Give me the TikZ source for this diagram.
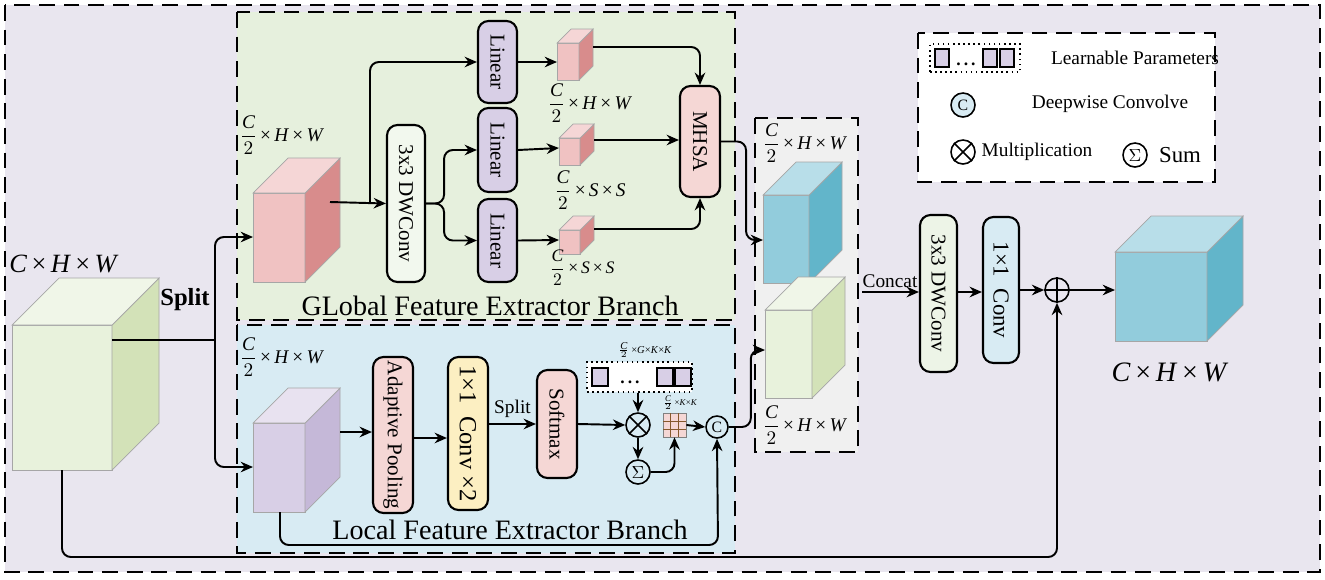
\documentclass[tikz,border=0pt]{standalone}
\usepackage{fontspec}
\setmainfont{Liberation Serif}
\usetikzlibrary{arrows.meta}
\newcommand{\mycube}[8]{%
 \fill[#6,draw=gray!70,line width=0.4pt] (#1,#2) rectangle (#3,#4);
 \fill[#7,draw=gray!70,line width=0.4pt] (#3,#2) -- (#3+#5,#2-#5) -- (#3+#5,#4-#5) -- (#3,#4) -- cycle;
 \fill[#8,draw=gray!70,line width=0.4pt] (#1,#2) -- (#1+#5,#2-#5) -- (#3+#5,#2-#5) -- (#3,#2) -- cycle;}
\newcommand{\hf}{$\displaystyle\frac{\textit{C}}{2}$}
\newcommand{\hfs}{$\frac{\textit{C}}{2}$}
\newcommand{\tm}{\,×\,}
\tikzset{
 bx/.style={draw,line width=1.2pt,rounded corners=6pt,minimum width=#1},
 ar/.style={line width=1.1pt,-{Stealth[length=7pt,width=6pt]},rounded corners=5pt},
 ln/.style={line width=1.1pt,rounded corners=5pt},
 dbox/.style={draw,line width=1.3pt,dash pattern=on 9pt off 5pt},
 op/.style={circle,draw,line width=0.9pt,minimum size=24*0.02cm,inner sep=0pt},
 lbl/.style={font=\fontsize{12}{14}\selectfont,rotate=-90},
 dim/.style={font=\fontsize{11}{12}\selectfont,inner sep=1pt},
 big/.style={font=\fontsize{16}{18}\selectfont},
}
\definecolor{bgout}{HTML}{E9E6EF}
\definecolor{bgg}{HTML}{E6F0DD}
\definecolor{bgl}{HTML}{D8EBF3}
\definecolor{pinkf}{HTML}{F0C2C2}
\definecolor{pinks}{HTML}{D88C8C}
\definecolor{pinkt}{HTML}{F5D6D6}
\definecolor{purp}{HTML}{D8CFE6}
\definecolor{purs}{HTML}{C5B8D8}
\definecolor{greenf}{HTML}{E8F2DC}
\definecolor{greens}{HTML}{D3E2B8}
\definecolor{greent}{HTML}{F0F6E8}
\definecolor{bluef}{HTML}{92CCDC}
\definecolor{blues}{HTML}{62B5CA}
\definecolor{bluet}{HTML}{B8DEE9}
\definecolor{yel}{HTML}{FCEFC2}
\definecolor{boxpink}{HTML}{F5D7D5}
\begin{document}
\begin{tikzpicture}[x=0.02cm,y=-0.02cm]
\useasboundingbox (0,0) rectangle (1325,579);
\fill[white] (0,0) rectangle (1325,579);
\draw[dbox,fill=bgout] (5,5) rectangle (1320,572);
\draw[dbox,fill=bgg] (237,12) rectangle (735,320);
\draw[dbox,fill=bgl] (237,325) rectangle (735,553);
\draw[dbox,fill=gray!12] (755,118) rectangle (858,452);
\draw[dbox,fill=white] (918,33) rectangle (1215,182);
% cubes
\mycube{12}{325}{112}{470}{47}{greenf}{greens}{greent}
\mycube{253}{193}{305}{282}{35}{pinkf}{pinks}{pinkt}
\mycube{557}{43}{579}{80}{14}{pinkf}{pinks}{pinkt}
\mycube{559}{138}{580}{165}{14}{pinkf}{pinks}{pinkt}
\mycube{559}{230}{580}{254}{14}{pinkf}{pinks}{pinkt}
\mycube{253}{423}{305}{512}{35}{purp}{purs}{purp!60}
\mycube{763}{195}{809}{283}{33}{bluef}{blues}{bluet}
\mycube{765}{310}{812}{398}{33}{greenf}{greens}{greent}
\mycube{1115}{252}{1207}{341}{36}{bluef}{blues}{bluet}
\coordinate (inR) at (112,340);
\coordinate (inB) at (62,470);
\coordinate (gcL) at (253,237);
\coordinate (gcR) at (330,202);
\coordinate (lcL) at (253,467);
\coordinate (lcR) at (340,432);
\coordinate (lcB) at (280,512);
\coordinate (c1R) at (593,47); \coordinate (c1L) at (557,62);
\coordinate (c2R) at (594,140); \coordinate (c2L) at (559,148);
\coordinate (c3R) at (594,229); \coordinate (c3L) at (559,240);
\coordinate (bcL) at (763,240);
\coordinate (gcL2) at (765,350);
\coordinate (fcL) at (1115,290);
% labels
\node[font=\fontsize{15}{17}\selectfont] (lin) at (64,264) {\textit{C}\tm\textit{H}\tm\textit{W}};
\node[font=\bfseries\fontsize{14}{16}\selectfont] (split) at (185,300) {Split};
\node[dim] (d1) at (282,135) {\hf\tm\textit{H}\tm\textit{W}};
\node[dim] (d2) at (590,103) {\hf\tm\textit{H}\tm\textit{W}};
\node[dim] (d3) at (590,190) {\hf\tm\textit{S}\tm\textit{S}};
\node[dim,font=\fontsize{10}{11}\selectfont] (d4) at (582,268) {\hf\tm\textit{S}\tm\textit{S}};
\node[dim] (d5) at (282,357) {\hf\tm\textit{H}\tm\textit{W}};
\node[dim] (d6) at (805,143) {\hf\tm\textit{H}\tm\textit{W}};
\node[dim] (d7) at (805,425) {\hf\tm\textit{H}\tm\textit{W}};
\node[font=\fontsize{16}{18}\selectfont] (lout) at (1170,372) {\textit{C}\tm\textit{H}\tm\textit{W}};
\node[big] (tg) at (490,306) {GLobal Feature Extractor Branch};
\node[big] (tl) at (510,530) {Local Feature Extractor Branch};
% global boxes
\node[bx=39*0.02cm,minimum height=82*0.02cm,fill=purp] (l1) at (497.5,62) {};
\node[bx=39*0.02cm,minimum height=84*0.02cm,fill=purp] (l2) at (497.5,150) {};
\node[bx=39*0.02cm,minimum height=83*0.02cm,fill=purp] (l3) at (497.5,240.5) {};
\foreach \n in {l1,l2,l3} \node[lbl] at (\n) {Linear};
\node[bx=38*0.02cm,minimum height=157*0.02cm,fill=bgg!50] (dw) at (406,203.5) {};
\node[lbl] at (dw) {3x3 DWConv};
\node[bx=40*0.02cm,minimum height=111*0.02cm,fill=boxpink] (mh) at (700,141.5) {};
\node[lbl] at (mh) {MHSA};
% local boxes
\node[bx=40*0.02cm,minimum height=156*0.02cm,fill=boxpink] (ap) at (393,435) {};
\node[lbl] at (ap) {Adaptive Pooling};
\node[bx=40*0.02cm,minimum height=153*0.02cm,fill=yel] (cv) at (468,433.5) {};
\node[lbl,font=\fontsize{14}{16}\selectfont] at (cv) {1×1 \ Conv ×2};
\node[bx=40*0.02cm,minimum height=108*0.02cm,fill=boxpink] (sm) at (557,424) {};
\node[lbl] at (sm) {Softmax};
\node[draw,dotted,line width=0.9pt,fill=white,minimum width=105*0.02cm,minimum height=30*0.02cm,inner sep=0pt] (pr) at (639.5,377) {};
\foreach \x in {600,665,683} \draw[fill=purp,line width=0.6pt] (\x-8,368) rectangle (\x+8,386);
\node[font=\bfseries] at (630,382) {.\,.\,.};
\node[font=\fontsize{6}{7}\selectfont] (d8) at (645,350) {\hfs\,×\textit{G}×\textit{K}×\textit{K}};
\node[op] (mul) at (638,425) {};
\draw[line width=0.9pt] (mul.north east) -- (mul.south west) (mul.north west) -- (mul.south east);
\node[op] (sum) at (638,472) {$\Sigma$};
\node[draw=gray,fill=boxpink,minimum width=23*0.02cm,minimum height=24*0.02cm,inner sep=0pt] (gr) at (674.5,425) {};
\foreach \i in {1,2} {\draw[brown!70!black,line width=0.4pt] (663+7.7*\i,413) -- (663+7.7*\i,437);
  \draw[brown!70!black,line width=0.4pt] (663,413+8*\i) -- (686,413+8*\i);}
\node[font=\fontsize{5}{6}\selectfont] (d9) at (680,403) {\hfs\,×\textit{K}×\textit{K}};
\node[op,minimum size=22*0.02cm,font=\small] (cc) at (717,427) {C};
% right boxes
\node[bx=37*0.02cm,minimum height=157*0.02cm,fill=bgg!70!white] (dw2) at (938.5,293.5) {};
\node[lbl] at (dw2) {3x3 DWConv};
\node[bx=36*0.02cm,minimum height=146*0.02cm,fill=bgl] (c11) at (1001,290) {};
\node[lbl,font=\fontsize{13}{15}\selectfont] at (c11) {1×1 \ Conv};
\node[op] (pl) at (1057,290) {};
\draw[line width=0.9pt] (pl.north) -- (pl.south) (pl.west) -- (pl.east);
\node[font=\fontsize{11}{13}\selectfont] (cct) at (890,281) {Concat};
\coordinate (mid) at (862,292);
% legend
\node[draw,dotted,line width=0.9pt,minimum width=90*0.02cm,minimum height=28*0.02cm] (lp) at (975,58) {};
\foreach \x in {942,990,1007} \draw[fill=purp,line width=0.6pt] (\x-7,49) rectangle (\x+7,67);
\node[font=\bfseries] at (966,64) {.\,.\,.};
\node[font=\fontsize{11}{13}\selectfont] (tlp) at (1135,58) {Learnable Parameters};
\node[op,fill=bgl,font=\small] (lc) at (963,105) {C};
\node[font=\fontsize{11}{13}\selectfont] (tlc) at (1110,104) {Deepwise Convolve};
\node[op] (lm) at (963,152) {};
\draw[line width=0.9pt] (lm.north east) -- (lm.south west) (lm.north west) -- (lm.south east);
\node[font=\fontsize{11}{13}\selectfont] (tlm) at (1037,152) {Multiplication};
\node[op] (ls) at (1135,155) {$\Sigma$};
\node[font=\fontsize{13}{15}\selectfont] (tls) at (1180,155) {Sum};
% connectors
\draw[ln] (inR) -- (215,340);
\draw[ar] (215,340) |- (gcL);
\draw[ar] (215,340) |- (lcL);
\draw[ar] (gcR) -- (dw.west);
\draw[ar] (370,202) |- (l1.west);
\draw[ar] (dw.east) -- ++(18,0) |- (l2.west);
\draw[ar] (dw.east) -- ++(18,0) |- (l3.west);
\draw[ar] (l1.east) -- (c1L);
\draw[ar] (l2.east) -- (c2L);
\draw[ar] (l3.east) -- (c3L);
\draw[ar] (c1R) -| (mh.north);
\draw[ar] (c2R) -- (mh.west |- c2R);
\draw[ar] (c3R) -| (mh.south);
\draw[ar] (mh.east) -- ++(25,0) |- (bcL);
\draw[ar] (lcR) -- (ap.west |- lcR);
\draw[ar] (ap.east |- 0,438) -- (cv.west |- 0,438);
\draw[ar] (cv.east |- sm) -- node[above,font=\fontsize{11}{13}\selectfont]{Split} (sm.west);
\draw[ar] (sm.east) -- (mul.west);
\draw[ar] (pr.south -| mul) -- (mul.north);
\draw[ar] (mul.south) -- (sum.north);
\draw[ar] (sum.east) -| (gr.south);
\draw[ar] (gr.east) -- (cc.west);
\draw[ar] (lcB) |- (718,545) -- (cc.south);
\draw[ar] (cc.east) -- ++(22,0) |- (gcL2);
\draw[ar] (mid) -- (dw2.west |- mid);
\draw[ar] (dw2.east |- mid) -- (c11.west |- mid);
\draw[ar] (c11.east) -- (pl.west);
\draw[ar] (pl.east) -- (fcL);
\draw[ar] (inB) |- (1057,557) -- (pl.south);
\end{tikzpicture}
\end{document}
